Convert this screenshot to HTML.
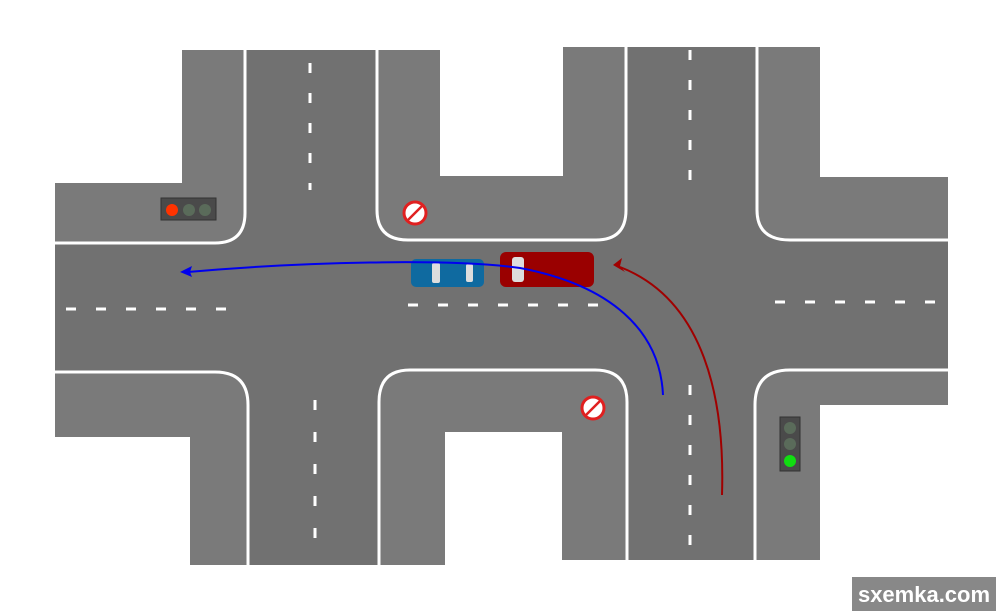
<!DOCTYPE html>
<html><head><meta charset="utf-8"><style>
html,body{margin:0;padding:0;background:#fff;width:1000px;height:611px;overflow:hidden}
</style></head><body>
<svg width="1000" height="611" viewBox="0 0 1000 611" xmlns="http://www.w3.org/2000/svg">
<polygon fill="#717171" points="182,50 440,50 440,176 563,176 563,47 820,47 820,177 948,177 948,405 820,405 820,560 562,560 562,432 445,432 445,565 190,565 190,437 55,437 55,183 182,183"/>
<g fill="#7a7a7a">
<path d="M182,50 H245 V213 Q245,243 215,243 H55 V183 H182 Z"/>
<path d="M377,50 H440 V176 H563 V47 H626 V210 Q626,240 596,240 H408 Q377,240 377,210 Z"/>
<path d="M757,47 H820 V177 H948 V240 H790 Q757,240 757,210 Z"/>
<path d="M55,372 H215 Q248,372 248,405 V565 H190 V437 H55 Z"/>
<path d="M379,565 V402 Q379,370 410,370 H595 Q627,370 627,402 V560 H562 V432 H445 V565 Z"/>
<path d="M755,560 V405 Q755,370 790,370 H948 V405 H820 V560 Z"/>
</g>
<g fill="none" stroke="#fff" stroke-width="3">
<path d="M245,50 V213 Q245,243 215,243 H55"/>
<path d="M377,50 V210 Q377,240 408,240 H596 Q626,240 626,210 V47"/>
<path d="M757,47 V210 Q757,240 790,240 H948"/>
<path d="M55,372 H215 Q248,372 248,405 V565"/>
<path d="M379,565 V402 Q379,370 410,370 H595 Q627,370 627,402 V560"/>
<path d="M755,560 V405 Q755,370 790,370 H948"/>
</g>
<g stroke="#fff" stroke-width="3">
<path d="M310,63 V190" stroke-dasharray="10,20"/>
<path d="M315,400 V560" stroke-dasharray="10,22"/>
<path d="M690,50 V185" stroke-dasharray="10,20"/>
<path d="M690,385 V548" stroke-dasharray="10,20"/>
<path d="M66,309 H232" stroke-dasharray="10,20"/>
<path d="M408,305 H600" stroke-dasharray="10,20"/>
<path d="M775,302 H940" stroke-dasharray="10,20"/>
</g>
<rect x="161" y="198" width="55" height="22" fill="#4a4a4a" stroke="#333"/>
<circle cx="172" cy="210" r="6" fill="#ff3300"/>
<circle cx="189" cy="210" r="6" fill="#5a6b5a"/>
<circle cx="205" cy="210" r="6" fill="#5a6b5a"/>
<rect x="780" y="417" width="20" height="54" fill="#4a4a4a" stroke="#333"/>
<circle cx="790" cy="428" r="6" fill="#5a6b5a"/>
<circle cx="790" cy="444" r="6" fill="#5a6b5a"/>
<circle cx="790" cy="461" r="6" fill="#11dd11"/>
<circle cx="415" cy="213" r="11" fill="#fff" stroke="#e02020" stroke-width="3"/>
<line x1="408" y1="220" x2="422" y2="206" stroke="#e02020" stroke-width="2.5"/>
<circle cx="593" cy="408" r="11" fill="#fff" stroke="#e02020" stroke-width="3"/>
<line x1="586" y1="415" x2="600" y2="401" stroke="#e02020" stroke-width="2.5"/>
<rect x="411" y="259" width="73" height="28" rx="5" fill="#0f6aa0"/>
<rect x="432" y="263" width="8" height="20" rx="2" fill="#ddd"/>
<rect x="466" y="264" width="7" height="18" rx="2" fill="#ddd"/>
<rect x="500" y="252" width="94" height="35" rx="6" fill="#9a0000"/>
<rect x="512" y="257" width="12" height="25" rx="3" fill="#ddd"/>
<path d="M663,395 C660,330 610,285 520,268 C450,258 300,262 188,272" fill="none" stroke="#0000ee" stroke-width="2"/>
<polygon points="180,272 192,266 190,272 192,277" fill="#0000ee"/>
<path d="M722,495 C725,400 705,300 620,267" fill="none" stroke="#a00000" stroke-width="2"/>
<polygon points="613,265 622,258 620,266 625,272" fill="#a00000"/>
<rect x="852" y="577" width="144" height="34" fill="#888"/>
<text x="924" y="602" text-anchor="middle" font-family="Liberation Sans, sans-serif" font-weight="bold" font-size="22" fill="#fff">sxemka.com</text>
</svg>
</body></html>
